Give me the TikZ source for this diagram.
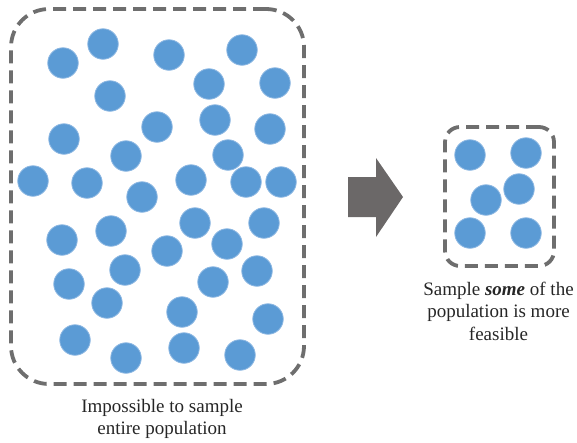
\documentclass[tikz,border=0pt]{standalone}
\usepackage{fontspec}
\setmainfont{Liberation Serif}
\newfontfamily\capserif{Liberation Serif}
\begin{document}
\begin{tikzpicture}[x=1pt,y=-1pt,
  dot/.style={circle,fill=dotblue,draw=dotedge,line width=0.8pt,minimum size=30.5pt,inner sep=0pt},
  groupbox/.style={draw=boxgray,line width=3.8pt,dash pattern=on 13pt off 7pt,inner sep=0pt},
  caption/.style={align=center,text=capt,inner sep=0pt,font=\capserif\fontsize{19}{22.5}\selectfont}]
\definecolor{dotblue}{HTML}{5B9BD5}
\definecolor{dotedge}{HTML}{8CB7E2}
\definecolor{boxgray}{HTML}{6E6E6E}
\definecolor{arrowgray}{HTML}{6B6868}
\definecolor{capt}{HTML}{262626}
\useasboundingbox (0,0) rectangle (577,442);

% whole population
\node[groupbox,rounded corners=38pt,minimum width=293pt,minimum height=375pt] (pop) at (157.5,196.5) {};
\foreach \i/\x/\y in {1/63/63,2/103/44,3/169/55,4/242/50,5/209/84,6/275/83,7/110/96,
  8/64/139,9/157/127,10/215/120,11/270/129,12/126/156,13/228/155,14/33/181,15/87/183,
  16/191/180,17/246/182,18/281/182,19/142/197,20/62/240,21/111/231,22/195/223,23/264/223,
  24/167/251,25/227/244,26/125/270,27/69/284,28/213/282,29/257/271,30/107/303,31/182/312,
  32/268/319,33/75/340,34/126/358,35/184/348,36/240/355}
  \node[dot] (p\i) at (\x,\y) {};
\node[caption] (popcap) at (162,419) {Impossible to sample\\entire population};

% block arrow
\fill[arrowgray] (348,177) -- (376,177) -- (376,158) -- (403,197) -- (376,237) -- (376,217) -- (348,217) -- cycle;

% sample
\node[groupbox,rounded corners=15pt,minimum width=109pt,minimum height=139pt] (smp) at (499.5,196.5) {};
\foreach \i/\x/\y in {1/470/155,2/526/153,3/486/200,4/519/189,5/470/233,6/526/233}
  \node[dot] (s\i) at (\x,\y) {};
\node[caption] (smpcap) at (498.5,311) {Sample \textbf{\textit{some}} of the\\population is more\\feasible};
\end{tikzpicture}
\end{document}
